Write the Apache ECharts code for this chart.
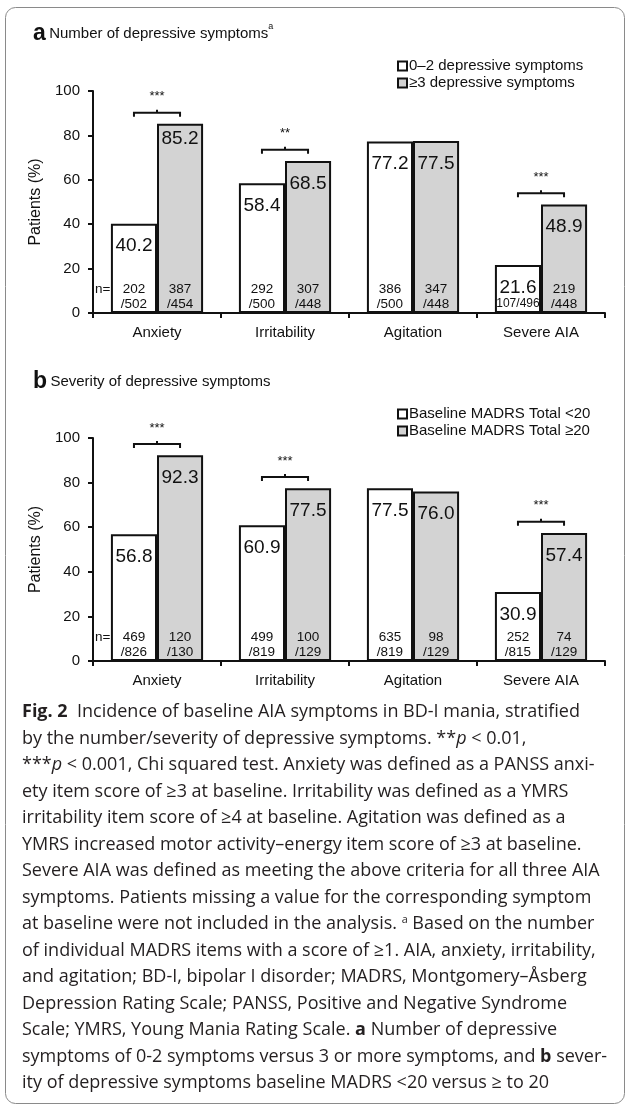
<!DOCTYPE html>
<html><head><meta charset="utf-8">
<script src="https://cdn.jsdelivr.net/npm/echarts@6/dist/echarts.min.js"></script>
<style>html,body{margin:0;padding:0;background:#fff}#c{width:629px;height:1108px}</style>
</head><body><div id="c"></div>
<script>
// ---------- data ----------
const categories = ['Anxiety', 'Irritability', 'Agitation', 'Severe AIA'];
const yTickStep = 20;

const aLowName = '0–2 depressive symptoms';
const aHighName = '≥3 depressive symptoms';
const aLow = [40.2, 58.4, 77.2, 21.6];
const aHigh = [85.2, 68.5, 77.5, 48.9];
const aLowNum = [202, 292, 386, 107];
const aLowDen = [502, 500, 500, 496];
const aHighNum = [387, 307, 347, 219];
const aHighDen = [454, 448, 448, 448];
const aSig = ['***', '**', '', '***'];

const bLowName = 'Baseline MADRS Total <20';
const bHighName = 'Baseline MADRS Total ≥20';
const bLow = [56.8, 60.9, 77.5, 30.9];
const bHigh = [92.3, 77.5, 76.0, 57.4];
const bLowNum = [469, 499, 635, 252];
const bLowDen = [826, 819, 819, 815];
const bHighNum = [120, 100, 98, 74];
const bHighDen = [130, 129, 129, 129];
const bSig = ['***', '***', '', '***'];

const captionLines = [
  '{b|Fig. 2}  Incidence of baseline AIA symptoms in BD-I mania, stratified',
  'by the number/severity of depressive symptoms. **{i|p} < 0.01,',
  '***{i|p} < 0.001, Chi squared test. Anxiety was defined as a PANSS anxi-',
  'ety item score of ≥3 at baseline. Irritability was defined as a YMRS',
  'irritability item score of ≥4 at baseline. Agitation was defined as a',
  'YMRS increased motor activity–energy item score of ≥3 at baseline.',
  'Severe AIA was defined as meeting the above criteria for all three AIA',
  'symptoms. Patients missing a value for the corresponding symptom',
  'at baseline were not included in the analysis. {sup|a} Based on the number',
  'of individual MADRS items with a score of ≥1. AIA, anxiety, irritability,',
  'and agitation; BD-I, bipolar I disorder; MADRS, Montgomery–Åsberg',
  'Depression Rating Scale; PANSS, Positive and Negative Syndrome',
  'Scale; YMRS, Young Mania Rating Scale. {b|a} Number of depressive',
  'symptoms of 0-2 symptoms versus 3 or more symptoms, and {b|b} sever-',
  'ity of depressive symptoms baseline MADRS <20 versus ≥ to 20'
];

// ---------- styles ----------
const FONT = '"Liberation Sans", Arial, sans-serif';
const INK = '#111';
const GREY = '#d3d3d3';
const BAR_FRAC = 0.36;

// caption font size fitted to the measured line width
const CAP_FONT = '"Open Sans", "Noto Sans", sans-serif';
const meas = document.createElement('canvas').getContext('2d');
meas.font = '100px ' + CAP_FONT;
const refW = meas.measureText('Severe AIA was defined as meeting the above criteria for all three AIA').width;
const capSize = Math.min(18, 100 * 588 / refW);

const grids = [
  { left: 93, right: 24, top: 91, height: 222 },
  { left: 93, right: 24, top: 438, height: 223 }
];

function nLabelSeries(gi, low, high, lowNum, lowDen, highNum, highDen) {
  const data = [];
  for (let i = 0; i < categories.length; i++) {
    data.push([i, lowNum[i], lowDen[i], 0]);
    data.push([i, highNum[i], highDen[i], 1]);
  }
  const vals = [low, high];
  return {
    type: 'custom', xAxisIndex: gi, yAxisIndex: gi, silent: true, clip: false, z: 5,
    data: data,
    renderItem: function (params, api) {
      const i = api.value(0), s = api.value(3);
      const base = api.coord([i, 0]);
      const band = api.size([1, 0])[0];
      const off = band * BAR_FRAC / 2;
      const x = base[0] + (s ? off : -off);
      const hpx = api.size([0, vals[s][i]])[1];
      const num = api.value(1), den = api.value(2);
      const ch = [];
      const txt = (t, xx, yy, size, align) => ({
        type: 'text', x: xx, y: yy,
        style: { text: t, fill: INK, fontSize: size, fontFamily: FONT, align: align || 'center', verticalAlign: 'middle' }
      });
      if (hpx < 55) {
        ch.push(txt(num + '/' + den, x, base[1] - 9, 12));
      } else {
        ch.push(txt(String(num), x, base[1] - 24, 13.5));
        ch.push(txt('/' + den, x, base[1] - 9, 13.5));
      }
      if (i === 0 && s === 0) ch.push(txt('n=', base[0] - band / 2 + 2, base[1] - 24, 13.5, 'left'));
      return { type: 'group', children: ch };
    }
  };
}

function bracketSeries(gi, low, high, sig) {
  const data = [];
  for (let i = 0; i < categories.length; i++) if (sig[i]) data.push([i, Math.max(low[i], high[i])]);
  return {
    type: 'custom', xAxisIndex: gi, yAxisIndex: gi, silent: true, clip: false, z: 6,
    data: data,
    renderItem: function (params, api) {
      const i = api.value(0);
      const c = api.coord([i, api.value(1) + 5]);
      const band = api.size([1, 0])[0];
      const off = band * BAR_FRAC / 2;
      const x1 = c[0] - off, x2 = c[0] + off, y = c[1];
      return {
        type: 'group', children: [
          { type: 'polyline', shape: { points: [[x1, y + 4], [x1, y], [x2, y], [x2, y + 4]] }, style: { stroke: INK, lineWidth: 2, fill: null } },
          { type: 'line', shape: { x1: c[0], y1: y, x2: c[0], y2: y - 3 }, style: { stroke: INK, lineWidth: 2 } },
          { type: 'text', x: c[0], y: y - 16, style: { text: sig[i], fill: INK, fontSize: 13, fontFamily: FONT, align: 'center', verticalAlign: 'middle' } }
        ]
      };
    }
  };
}

function barSeries(gi, name, vals, color, liftIdx) {
  return {
    type: 'bar', name: name, xAxisIndex: gi, yAxisIndex: gi,
    barWidth: (BAR_FRAC * 100) + '%', barGap: '0%',
    itemStyle: { color: color, borderColor: INK, borderWidth: 2 },
    label: {
      show: true, position: 'insideTop', distance: 13, color: INK,
      fontSize: 19, fontFamily: FONT,
      formatter: p => Number(p.value).toFixed(1)
    },
    data: vals.map((v, k) => k === liftIdx ? { value: v, label: { distance: 5 } } : v)
  };
}

function xAxis(gi) {
  return {
    type: 'category', gridIndex: gi, data: categories,
    axisLine: { lineStyle: { color: INK, width: 2 } },
    axisTick: { show: true, length: 5, lineStyle: { color: INK, width: 2 } },
    axisLabel: { fontSize: 15, color: INK, fontFamily: FONT, margin: 12 }
  };
}
function yAxis(gi) {
  return {
    type: 'value', gridIndex: gi, min: 0, max: 100, interval: yTickStep,
    name: 'Patients (%)', nameLocation: 'middle', nameGap: 46, nameRotate: 90,
    nameTextStyle: { fontSize: 16, color: INK, fontFamily: FONT },
    axisLine: { show: true, lineStyle: { color: INK, width: 2 } },
    axisTick: { show: true, length: 5, lineStyle: { color: INK, width: 2 } },
    axisLabel: { fontSize: 15, color: INK, fontFamily: FONT, margin: 13 },
    splitLine: { show: false }
  };
}
function legend(top, names) {
  return {
    orient: 'vertical', left: 392, top: top, itemWidth: 9, itemHeight: 9, itemGap: 1,
    icon: 'rect', selectedMode: false,
    itemStyle: { borderColor: INK, borderWidth: 2 },
    textStyle: { fontSize: 15, color: INK, fontFamily: FONT, padding: [0, 0, 0, -3], lineHeight: 16 },
    data: names
  };
}

const graphics = [
  { type: 'rect', shape: { x: 5.5, y: 7.5, width: 619, height: 1096, r: 10 }, style: { stroke: '#8a8a8a', fill: null, lineWidth: 1 }, silent: true },
  { type: 'text', x: 33, y: 34, style: {
      text: '{a|a} {t|Number of depressive symptoms}{s|a}', verticalAlign: 'middle',
      rich: { a: { fontSize: 23, fontWeight: 'bold', fontFamily: FONT, fill: INK },
              t: { fontSize: 15, fontFamily: FONT, fill: INK },
              s: { fontSize: 9, fontFamily: FONT, fill: INK, verticalAlign: 'top', padding: [0, 0, 3, 0] } } } },
  { type: 'text', x: 33, y: 382, style: {
      text: '{a|b} {t|Severity of depressive symptoms}', verticalAlign: 'middle',
      rich: { a: { fontSize: 23, fontWeight: 'bold', fontFamily: FONT, fill: INK },
              t: { fontSize: 15, fontFamily: FONT, fill: INK } } } }
];
captionLines.forEach((line, k) => {
  graphics.push({
    type: 'text', x: 22, y: 712 + k * 26.5, silent: true,
    style: {
      text: line, fontSize: capSize, fontFamily: CAP_FONT, fill: '#231f20', verticalAlign: 'middle',
      rich: {
        b: { fontSize: capSize, fontFamily: CAP_FONT, fontWeight: 'bold', fill: '#231f20' },
        i: { fontSize: capSize, fontFamily: CAP_FONT, fontStyle: 'italic', fill: '#231f20' },
        sup: { fontSize: capSize * 0.6, fontFamily: CAP_FONT, fill: '#231f20', verticalAlign: 'top', padding: [0, 0, 8, 0] }
      }
    }
  });
});

const option = {
  animation: false,
  backgroundColor: '#fff',
  grid: grids,
  legend: [legend(53, [aLowName, aHighName]), legend(401, [bLowName, bHighName])],
  xAxis: [xAxis(0), xAxis(1)],
  yAxis: [yAxis(0), yAxis(1)],
  series: [
    barSeries(0, aLowName, aLow, '#fff', -1),
    barSeries(0, aHighName, aHigh, GREY, 0),
    nLabelSeries(0, aLow, aHigh, aLowNum, aLowDen, aHighNum, aHighDen),
    bracketSeries(0, aLow, aHigh, aSig),
    barSeries(1, bLowName, bLow, '#fff', -1),
    barSeries(1, bHighName, bHigh, GREY, -1),
    nLabelSeries(1, bLow, bHigh, bLowNum, bLowDen, bHighNum, bHighDen),
    bracketSeries(1, bLow, bHigh, bSig)
  ],
  graphic: graphics
};
const chart = echarts.init(document.getElementById('c'), null, { renderer: 'canvas' });
chart.setOption(option);
</script>
</body></html>
